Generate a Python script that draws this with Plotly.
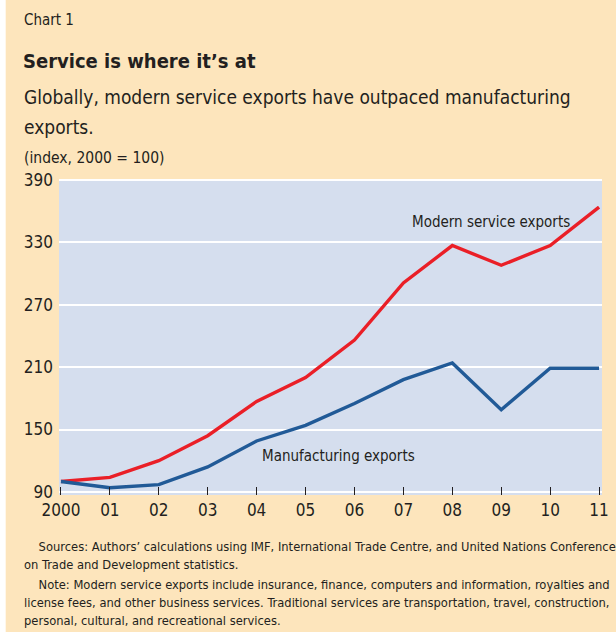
import plotly.graph_objects as go

years = list(range(12))
year_labels = ["2000", "01", "02", "03", "04", "05", "06", "07", "08", "09", "10", "11"]
modern_services = [100, 104, 120, 144, 177, 200, 236, 291, 327, 308, 327, 364]
manufacturing = [100, 94, 97, 114, 139, 154, 175, 198, 214, 169, 209, 209]
y_ticks = [90, 150, 210, 270, 330, 390]

FONT = "DejaVu Sans Condensed, Liberation Sans Narrow, sans-serif"
PEACH = "#fde5bc"
INK = "#231f20"

W, H = 616, 632
L, R, T, B = 59, 7, 179, 137


def px(x):
    return (x - L) / (W - L - R)


def py(y):
    return (H - B - y) / (H - T - B)


fig = go.Figure()
fig.add_trace(go.Scatter(x=years, y=modern_services, mode="lines",
                         line=dict(color="#ea1f27", width=3.4), hoverinfo="skip"))
fig.add_trace(go.Scatter(x=years, y=manufacturing, mode="lines",
                         line=dict(color="#215a97", width=3.4), hoverinfo="skip"))

# footnote lines with their baseline positions in the original
note_lines = [
    ("&nbsp;&nbsp;&nbsp;&nbsp;Sources: Authors’ calculations using IMF, International Trade Centre, and United Nations Conference", 546),
    ("on Trade and Development statistics.", 564),
    ("&nbsp;&nbsp;&nbsp;&nbsp;Note: Modern service exports include insurance, finance, computers and information, royalties and", 584),
    ("license fees, and other business services. Traditional services are transportation, travel, construction,", 602),
    ("personal, cultural, and recreational services.", 620),
]

annotations = [
    dict(text="Chart 1", x=px(22), y=py(20), font=dict(size=15, color=INK)),
    dict(text="<b>Service is where it’s at</b>", x=px(21), y=py(61), font=dict(size=20, color=INK)),
    dict(text="Globally, modern service exports have outpaced manufacturing", x=px(22), y=py(97),
         font=dict(size=19, color=INK)),
    dict(text="exports.", x=px(22), y=py(127), font=dict(size=19, color=INK)),
    dict(text="(index, 2000 = 100)", x=px(22), y=py(158), font=dict(size=15.5, color=INK)),
]
for txt, ypos in note_lines:
    annotations.append(dict(text=txt, x=px(22), y=py(ypos), font=dict(size=12.8, color=INK)))
for a in annotations:
    a.update(xref="paper", yref="paper", xanchor="left", yanchor="middle", showarrow=False)

annotations += [
    dict(text="Modern service exports", x=8.8, y=350, xref="x", yref="y", showarrow=False,
         font=dict(size=15, color=INK)),
    dict(text="Manufacturing exports", x=5.68, y=125, xref="x", yref="y", showarrow=False,
         font=dict(size=15, color=INK)),
]

fig.update_layout(
    width=W, height=H,
    margin=dict(l=L, r=R, t=T, b=B),
    paper_bgcolor=PEACH,
    plot_bgcolor="#d5deee",
    showlegend=False,
    font=dict(family=FONT, color=INK),
    annotations=annotations,
    shapes=[dict(type="rect", xref="paper", yref="paper", x0=px(-5), x1=px(5), y0=py(-5), y1=py(H + 5),
                 fillcolor="white", line=dict(width=0), layer="below")],
)
fig.update_xaxes(range=[-0.04, 11.06], tickvals=years, ticktext=year_labels,
                 ticks="inside", ticklen=8, tickcolor=INK, tickwidth=1.2,
                 showgrid=False, zeroline=False, showline=False, ticklabelstandoff=3,
                 tickfont=dict(size=17, family=FONT))
fig.update_yaxes(range=[87, 391], tickvals=y_ticks, showgrid=True, gridcolor="white", gridwidth=2,
                 zeroline=False, showline=False, ticks="", ticklabelstandoff=5,
                 tickfont=dict(size=17, family=FONT))

fig.write_html("out.html", config={"displayModeBar": False},
               post_script="document.body.style.margin='0';")
